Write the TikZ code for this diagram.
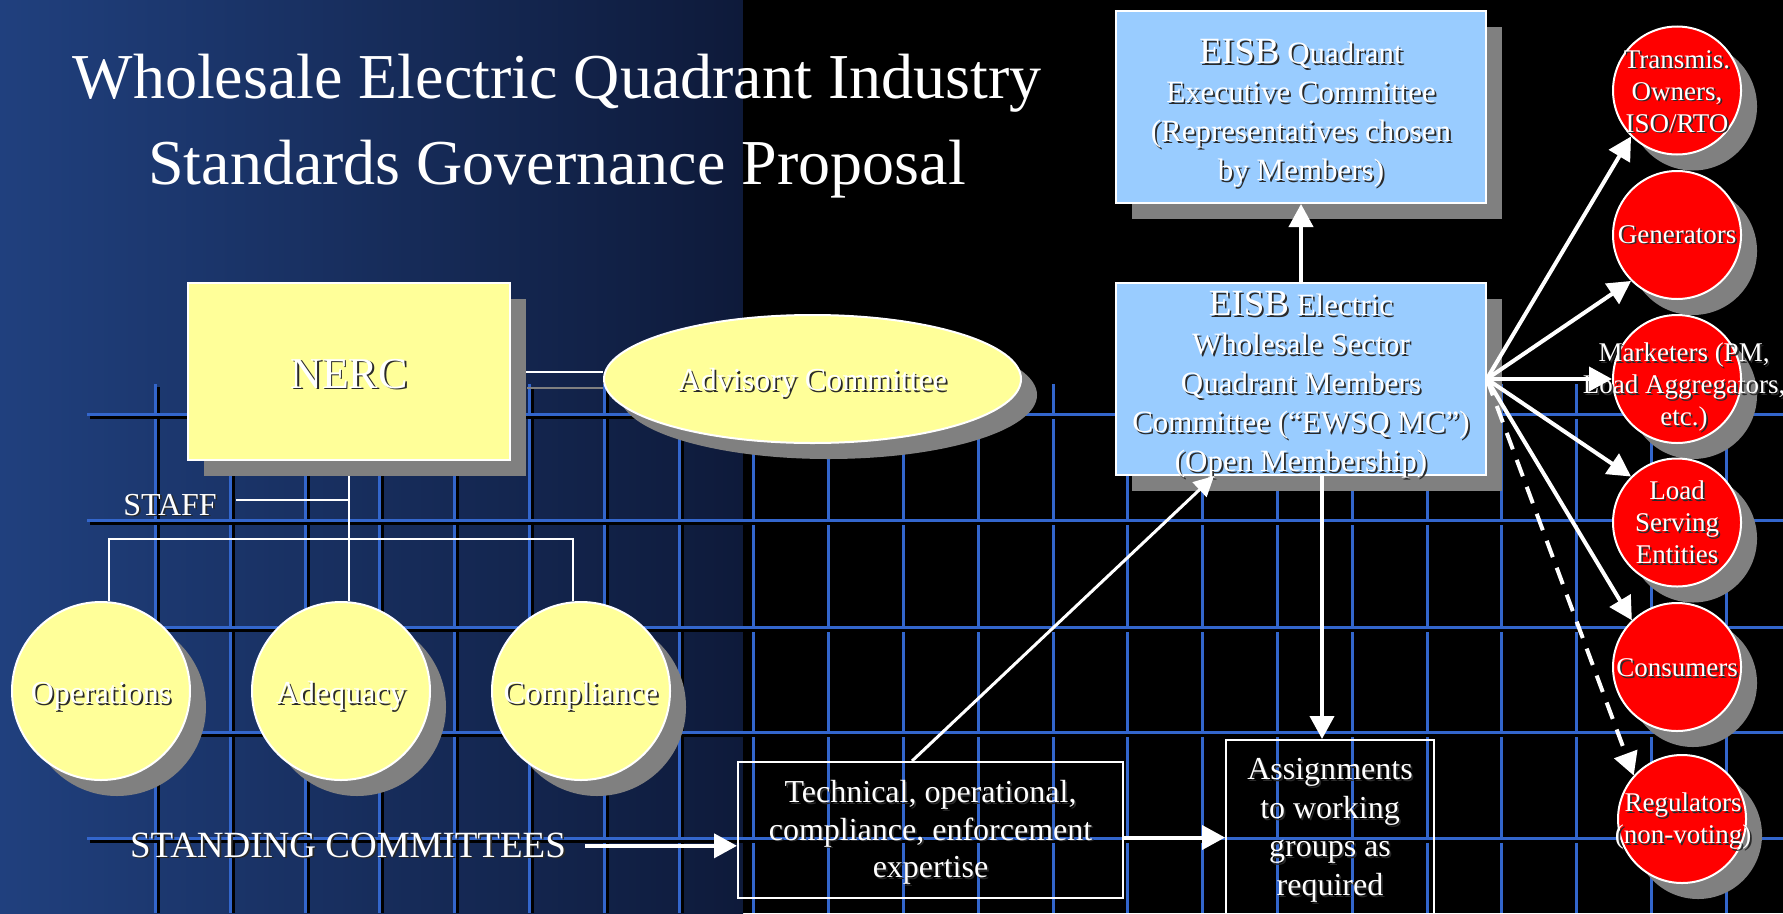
\documentclass[tikz,border=0pt]{standalone}
\usepackage{fontspec}
\setmainfont{Liberation Serif}
\usetikzlibrary{arrows.meta,shadows,shapes.geometric}

\definecolor{bgL}{HTML}{20407E}
\definecolor{bgM}{HTML}{1B356B}
\definecolor{bgR}{HTML}{0E1A3A}
\definecolor{gridblue}{HTML}{3366CC}
\definecolor{nercyel}{HTML}{FFFF99}
\definecolor{eisbblue}{HTML}{99CCFF}
\definecolor{redc}{HTML}{FF0000}
\definecolor{shgray}{HTML}{808080}
\definecolor{txtsh}{HTML}{2A2A2A}

\newcommand\sh[1]{\leavevmode\rlap{\kern0.7pt\raisebox{-0.7pt}{\textcolor{txtsh}{#1}}}#1}
\newcommand\zxt[3]{\smash{\makebox[0pt]{\kern#1\kern#1\raisebox{#2}{\begin{tabular}{@{}c@{}}#3\end{tabular}}}}}

\pgfdeclarelayer{bg}
\pgfdeclarelayer{behind}
\pgfsetlayers{bg,behind,main}

\tikzset{
  thinw/.style={draw=white, line width=0.8pt},
  arrw/.style={draw=white, line width=1.6pt, -{Triangle[length=9.2pt,width=9.6pt]}},
  arrthin/.style={draw=white, line width=1.2pt, -{Triangle[length=8pt,width=8pt]}},
  shad/.style={drop shadow={shadow xshift=6.4pt, shadow yshift=-6.4pt, fill=shgray, opacity=1}},
  yelbox/.style={shad, draw=white, line width=0.8pt, fill=nercyel, text=white, inner sep=0pt},
  bluebox/.style={shad, draw=white, line width=0.8pt, fill=eisbblue, text=white, inner sep=0pt,
    minimum width=147.8pt, minimum height=76.8pt, font=\fontsize{12.4}{15.6}\selectfont},
  redcirc/.style={shad, circle, draw=white, line width=0.8pt, fill=redc, text=white, inner sep=0pt,
    minimum size=51.2pt, font=\fontsize{10.8}{12.8}\selectfont},
  yelcirc/.style={yelbox, circle, minimum size=71.2pt, font=\fontsize{12.8}{15.2}\selectfont},
  wbox/.style={draw=white, line width=0.8pt, text=white, inner sep=0pt},
  txt/.style={text=white, inner sep=0pt},
  gridsh/.style={draw=black, line width=1.2pt},
  gridln/.style={draw=gridblue, line width=1.2pt},
}

\begin{document}
\begin{tikzpicture}[x=0.4pt, y=-0.4pt]
\useasboundingbox (0,0) rectangle (1783,913);
\clip (0,0) rectangle (1783,913);

\begin{pgfonlayer}{bg}
  \shade[left color=bgL, middle color=bgM, right color=bgR] (0,0) rectangle (743,913);
  \fill[black] (743,0) rectangle (1783,913);
  \foreach \k in {0,...,21} {
    \pgfmathsetmacro\gx{155.5+74.8*\k}
    \draw[gridsh] (\gx+3,387) -- (\gx+3,913);
    \draw[gridln] (\gx,384) -- (\gx,913);
  }
  \foreach \gy in {414,520,627,732,838} {
    \draw[gridsh] (90,\gy+3) -- (1783,\gy+3);
    \draw[gridln] (87,\gy) -- (1783,\gy);
  }
\end{pgfonlayer}

% title
\node[txt, font=\fontsize{25.6}{34.4}\selectfont] (title) at (557,140)
  {\zxt{0pt}{0pt}{Wholesale Electric Quadrant Industry\\Standards Governance Proposal}};

% NERC side
\node[yelbox, minimum width=128.8pt, minimum height=70.8pt, font=\fontsize{17.6}{21}\selectfont]
  (nerc) at (349,371.5) {\zxt{0pt}{-6.8pt}{\sh{NERC}}};
\node[yelbox, ellipse, minimum width=166.8pt, minimum height=51.2pt, font=\fontsize{12.8}{15.2}\selectfont]
  (adv) at (812.5,379) {\zxt{0pt}{-4.6pt}{\sh{Advisory Committee}}};
\node[yelcirc] (op) at (101,691) {\zxt{0pt}{-5pt}{\sh{Operations}}};
\node[yelcirc] (ade) at (341,691) {\zxt{0pt}{-5pt}{\sh{Adequacy}}};
\node[yelcirc] (comp) at (581,691) {\zxt{0pt}{-5pt}{\sh{Compliance}}};
\node[txt, anchor=base, font=\fontsize{12.8}{15.2}\selectfont] (staff) at (170,515) {\sh{STAFF}};
\node[txt, anchor=base, font=\fontsize{14.8}{18}\selectfont] (sc) at (348,857) {\sh{STANDING COMMITTEES}};

% EISB side
\node[bluebox] (eisbq) at (1301,107) {\zxt{0pt}{-5.8pt}{%
  \sh{{\fontsize{14.8}{15.6}\selectfont EISB} Quadrant}\\
  \sh{Executive Committee}\\
  \sh{(Representatives chosen}\\
  \sh{by Members)}}};
\node[bluebox] (ewsq) at (1301,379) {\zxt{0pt}{-5.7pt}{%
  \sh{{\fontsize{14.8}{15.6}\selectfont EISB} Electric}\\
  \sh{Wholesale Sector}\\
  \sh{Quadrant Members}\\
  \sh{Committee (“EWSQ MC”)}\\
  \sh{(Open Membership)}}};

\node[wbox, minimum width=154pt, minimum height=54.4pt, font=\fontsize{12.8}{15}\selectfont]
  (tech) at (930.5,830) {\zxt{0pt}{-4pt}{%
  \sh{Technical, operational,}\\
  \sh{compliance, enforcement}\\
  \sh{expertise}}};
\node[wbox, minimum width=83.2pt, minimum height=78pt, font=\fontsize{12.8}{15.4}\selectfont]
  (asg) at (1330,837.5) {\zxt{0pt}{0pt}{%
  \sh{Assignments}\\
  \sh{to working}\\
  \sh{groups as}\\
  \sh{required}}};

% red circles
\node[redcirc] (tr) at (1677,90.5) {\zxt{0pt}{-4pt}{\sh{Transmis.}\\\sh{Owners,}\\\sh{ISO/RTO}}};
\node[redcirc] (gen) at (1677,235) {\zxt{0pt}{-3.4pt}{\sh{Generators}}};
\node[redcirc] (mk) at (1677,379) {\zxt{2.8pt}{-6.1pt}{\sh{Marketers (PM,}\\\sh{Load Aggregators,}\\\sh{etc.)}}};
\node[redcirc] (ls) at (1677,522.5) {\zxt{0pt}{-3.9pt}{\sh{Load}\\\sh{Serving}\\\sh{Entities}}};
\node[redcirc] (co) at (1677,667) {\zxt{0pt}{-4.1pt}{\sh{Consumers}}};
\node[redcirc] (re) at (1682,819) {\zxt{0.4pt}{-3.7pt}{\sh{Regulators}\\\sh{(non-voting)}}};

% connectors behind the NERC nodes
\coordinate (barL) at (109,539);
\coordinate (barR) at (573,539);
\coordinate (staffj) at (349,500);
\begin{pgfonlayer}{behind}
  \draw[thinw] (nerc.east) -- (nerc.east -| adv.west);
  \draw[draw=shgray, line width=0.8pt] ([shift={(6.4pt,-6.4pt)}]nerc.east) -- ([yshift=-6.4pt]nerc.east -| adv.west);
  \draw[thinw] (nerc.south) -- (nerc.south |- ade.north);
  \draw[thinw] (op.north -| barL) -- (barL) -- (barR) -- (comp.north -| barR);
  \draw[thinw] ([xshift=7.6pt]staff.east |- staffj) -- (staffj);
\end{pgfonlayer}

% arrows
\draw[arrw] (ewsq.north) -- (eisbq.south);
\draw[arrw] ([xshift=8.4pt]ewsq.south) -- ([xshift=8.4pt]ewsq.south |- asg.north);
\draw[arrw] ([xshift=7.6pt]sc.east) -- (sc.east -| tech.west);
\draw[arrw] ([yshift=-3pt]tech.east) -- ([yshift=-3pt]tech.east -| asg.west);
\draw[arrthin] ([xshift=-7.4pt]tech.north) -- ([xshift=-34.8pt]ewsq.south);
\draw[arrw] (ewsq.east) -- (tr.225);
\draw[arrw] (ewsq.east) -- (gen.225);
\draw[arrw] (ewsq.east) -- (mk.180);
\draw[arrw] (ewsq.east) -- (ls.135);
\draw[arrw] (ewsq.east) -- (co.134);
\draw[arrw, dash pattern=on 7pt off 4.5pt] (ewsq.east) -- (re.138);
\end{tikzpicture}
\end{document}
